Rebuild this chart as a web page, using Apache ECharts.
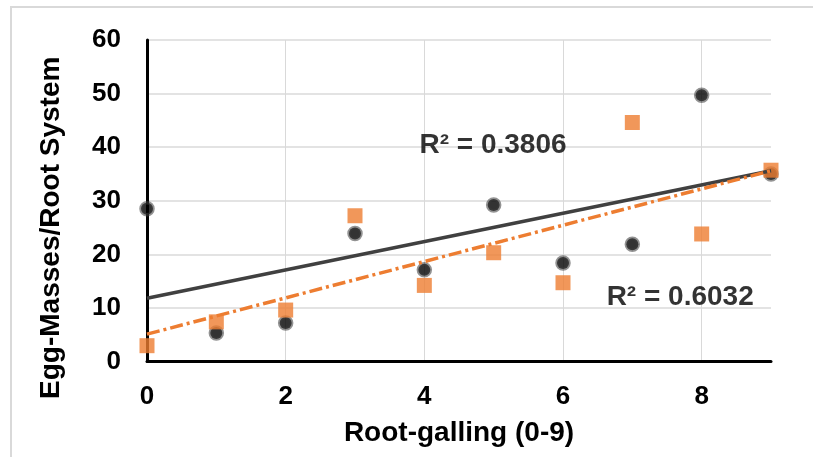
<!DOCTYPE html>
<html>
<head>
<meta charset="utf-8">
<style>
html,body{margin:0;padding:0;background:#fff;}
#chart{width:813px;height:457px;}
</style>
<script src="https://cdn.jsdelivr.net/npm/echarts@6/dist/echarts.min.js"></script>
</head>
<body>
<div id="chart"></div>
<script>
// Data
var xValues = [0, 1, 2, 3, 4, 5, 6, 7, 8, 9];
var blackValues = [28.5, 5.3, 7.2, 23.9, 17.1, 29.2, 18.4, 21.9, 49.7, 35.0];
var orangeValues = [2.95, 7.4, 9.6, 27.2, 14.2, 20.3, 14.7, 44.6, 23.8, 35.7];
var blackTrend = [[0, 11.8], [9, 35.6]];
var orangeTrend = [[0, 5.1], [9, 35.6]];
var r2Labels = [
  {text: 'R\u00B2 = 0.3806', x: 4.99, y: 40.4},
  {text: 'R\u00B2 = 0.6032', x: 7.69, y: 12.0}
];
var xTicks = [0, 2, 4, 6, 8];
var yTicks = [0, 10, 20, 30, 40, 50, 60];

function pairs(xs, ys) { return xs.map(function (x, i) { return [x, ys[i]]; }); }

var font = 'Liberation Sans, Arial, sans-serif';
var chart = echarts.init(document.getElementById('chart'), null, {renderer: 'canvas'});
chart.setOption({
  animation: false,
  backgroundColor: '#fff',
  graphic: [{
    type: 'rect', left: 10, top: 6, silent: true, z: -10,
    shape: {width: 820, height: 470},
    style: {fill: '#fff', stroke: '#d9d9d9', lineWidth: 2}
  }],
  grid: {left: 147, right: 42, top: 40, bottom: 95.5, containLabel: false},
  xAxis: {
    type: 'value', min: 0, max: 9, interval: 2,
    name: 'Root-galling (0-9)', nameLocation: 'middle', nameGap: 58,
    nameTextStyle: {fontFamily: font, fontWeight: 'bold', fontSize: 28, color: '#000'},
    axisLine: {show: true, onZero: false, lineStyle: {color: '#000', width: 3}},
    axisTick: {show: false},
    axisLabel: {
      fontFamily: font, fontWeight: 'bold', fontSize: 26, color: '#000', margin: 22,
      showMaxLabel: false,
      formatter: function (v) { return xTicks.indexOf(v) >= 0 ? String(v) : ''; }
    },
    splitLine: {show: true, showMaxLine: false, lineStyle: {color: '#d9d9d9', width: 1}}
  },
  yAxis: {
    type: 'value', min: 0, max: 60, interval: 10,
    name: 'Egg-Masses/Root System', nameLocation: 'middle', nameGap: 82,
    nameTextStyle: {fontFamily: font, fontWeight: 'bold', fontSize: 28, color: '#000', padding: [0, 54, 0, 0]},
    axisLine: {show: true, lineStyle: {color: '#000', width: 3}},
    axisTick: {show: false},
    axisLabel: {
      fontFamily: font, fontWeight: 'bold', fontSize: 26, color: '#000', margin: 26,
      formatter: function (v) { return yTicks.indexOf(v) >= 0 ? String(v) : ''; }
    },
    splitLine: {show: true, lineStyle: {color: '#e3e3e3', width: 2}}
  },
  series: [
    {
      type: 'scatter', name: 'black', z: 3,
      data: pairs(xValues, blackValues),
      symbol: 'circle', symbolSize: 12,
      itemStyle: {color: '#000', borderColor: 'rgba(60,60,60,0.7)', borderWidth: 3.5}
    },
    {
      type: 'scatter', name: 'orange', z: 4,
      data: pairs(xValues, orangeValues),
      symbol: 'rect', symbolSize: 15,
      itemStyle: {color: '#ED7D31'}
    },
    {
      type: 'line', name: 'blackTrend', z: 5,
      data: blackTrend, symbol: 'none',
      lineStyle: {color: '#404040', width: 3.5}
    },
    {
      type: 'line', name: 'orangeTrend', z: 6,
      data: orangeTrend, symbol: 'none',
      lineStyle: {color: '#ED7D31', width: 3.5, type: [13, 4, 3, 4]}
    },
    {
      type: 'scatter', name: 'r2', z: 7, silent: true,
      data: r2Labels.map(function (d) { return {value: [d.x, d.y], name: d.text}; }),
      symbolSize: 0,
      label: {
        show: true, position: 'inside', formatter: '{b}',
        fontFamily: font, fontWeight: 'bold', fontSize: 28, color: '#000'
      }
    }
  ]
});
</script>
</body>
</html>
